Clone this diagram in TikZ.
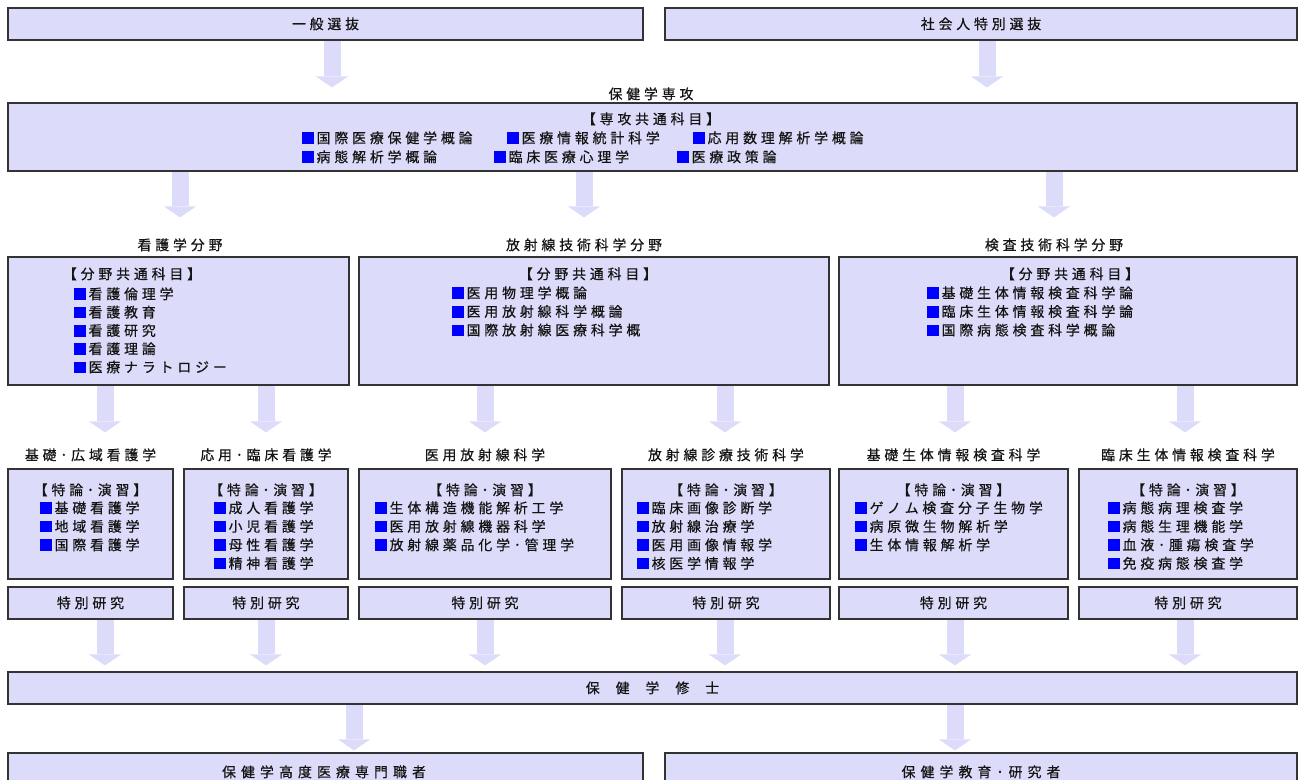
\documentclass[tikz,border=0pt]{standalone}
\usepackage{fontspec}
\setmainfont{Noto Sans CJK JP}
\newfontfamily\jp[LetterSpace=28,FakeBold=0.6]{Noto Sans CJK JP}
\newfontfamily\jpw[LetterSpace=37,FakeBold=0.6]{Noto Sans CJK JP}
\usetikzlibrary{arrows.meta,fit,calc}
\pgfdeclarelayer{bg}
\pgfsetlayers{bg,main}
\definecolor{boxfill}{RGB}{220,220,250}
\definecolor{arrfill}{RGB}{220,220,250}
\definecolor{sqblue}{RGB}{0,0,255}
\definecolor{ink}{RGB}{20,20,20}
\newcommand{\sqb}{\textcolor{sqblue}{\rule[-0.6pt]{8.6pt}{8.6pt}}\hspace{2.2pt}}
\begin{document}
\begin{tikzpicture}[x=0.75pt,y=-0.75pt,
  bx/.style={draw=black!80, line width=0.8pt, fill=boxfill, inner sep=0pt},
  txt/.style={font=\jp\fontsize{10.4pt}{12pt}\selectfont, text=ink, inner sep=0pt, text height=9pt, text depth=1.3pt},
  txn/.style={font=\jpw\fontsize{10.4pt}{12pt}\selectfont, text=ink, inner sep=0pt, text height=9pt, text depth=1.3pt},
  barrow/.style={draw=arrfill, line width=12.75pt, -{Triangle[width=24pt,length=8.25pt,line width=0pt]}},
]
\useasboundingbox (0,0) rectangle (1303,780);
\clip (0,0) rectangle (1303,780);

% ---- top selection boxes
\node[bx, fit={(8,8) (643,40)}] (sel1) {};
\node[txt] (sel1t) at (sel1.center) {一般選抜};
\node[bx, fit={(665,8) (1297,40)}] (sel2) {};
\node[txt] (sel2t) at (sel2.center) {社会人特別選抜};

% ---- major
\node[txt] (majlab) at (651,94) {保健学専攻};
\node[bx, fit={(8,103) (1297,171)}] (major) {};
\node[txt] (majhead) at (651,119) {【専攻共通科目】};
\node[txt, anchor=west] (m1) at (302,138) {\sqb 国際医療保健学概論};
\node[txt, anchor=west] (m2) at (507,138) {\sqb 医療情報統計科学};
\node[txt, anchor=west] (m3) at (693,138) {\sqb 応用数理解析学概論};
\node[txt, anchor=west] (m4) at (302,157) {\sqb 病態解析学概論};
\node[txt, anchor=west] (m5) at (494,157) {\sqb 臨床医療心理学};
\node[txt, anchor=west] (m6) at (677,157) {\sqb 医療政策論};

% ---- fields
\node[txt] (falab) at (180,245) {看護学分野};
\node[txt] (fblab) at (584,245) {放射線技術科学分野};
\node[txt] (fclab) at (1054,245) {検査技術科学分野};
\node[bx, fit={(8,257) (349,385)}] (fa) {};
\node[bx, fit={(359,257) (829,385)}] (fb) {};
\node[bx, fit={(839,257) (1297,385)}] (fc) {};
\node[txt] (fahead) at (132,274) {【分野共通科目】};
\node[txt] (fbhead) at (588,274) {【分野共通科目】};
\node[txt] (fchead) at (1070,274) {【分野共通科目】};
\foreach \s [count=\i from 0] in {看護倫理学,看護教育,看護研究,看護理論,医療ナラトロジー}
  \node[txt, anchor=west] (fa\i) at (74,{294+18.3*\i}) {\sqb\s};
\foreach \s [count=\i from 0] in {医用物理学概論,医用放射線科学概論,国際放射線医療科学概}
  \node[txt, anchor=west] (fb\i) at (452,{293+18.6*\i}) {\sqb\s};
\foreach \s [count=\i from 0] in {基礎生体情報検査科学論,臨床生体情報検査科学論,国際病態検査科学概論}
  \node[txt, anchor=west] (fc\i) at (927,{293+18.6*\i}) {\sqb\s};

% ---- sub-fields
\foreach \n/\xa/\xb/\lab in {s1/8/173/基礎･広域看護学, s2/184/348/応用･臨床看護学, s3/359/611/医用放射線科学, s4/622/830/放射線診療技術科学, s5/839/1068/基礎生体情報検査科学, s6/1079/1297/臨床生体情報検査科学}{
  \node[bx, fit={(\xa,469) (\xb,579)}] (\n) {};
  \node[txt] (\n lab) at ($(\xa,455)!0.5!(\xb,455)$) {\lab};
  \node[txt] (\n head) at ($(\xa,490)!0.5!(\xb,490)$) {【特論･演習】};
  \node[bx, fit={(\xa,587) (\xb,619)}] (\n r) {};
  \node[txt] (\n rt) at (\n r.center) {特別研究};
}
\foreach \s [count=\i from 0] in {基礎看護学,地域看護学,国際看護学}
  \node[txt, anchor=west] (s1i\i) at (40,{508+18.5*\i}) {\sqb\s};
\foreach \s [count=\i from 0] in {成人看護学,小児看護学,母性看護学,精神看護学}
  \node[txt, anchor=west] (s2i\i) at (214,{508+18.5*\i}) {\sqb\s};
\foreach \s [count=\i from 0] in {生体構造機能解析工学,医用放射線機器科学,放射線薬品化学･管理学}
  \node[txt, anchor=west] (s3i\i) at (375,{508+18.5*\i}) {\sqb\s};
\foreach \s [count=\i from 0] in {臨床画像診断学,放射線治療学,医用画像情報学,核医学情報学}
  \node[txt, anchor=west] (s4i\i) at (637,{508+18.5*\i}) {\sqb\s};
\foreach \s [count=\i from 0] in {ゲノム検査分子生物学,病原微生物解析学,生体情報解析学}
  \node[txt, anchor=west] (s5i\i) at (855,{508+18.5*\i}) {\sqb\s};
\foreach \s [count=\i from 0] in {病態病理検査学,病態生理機能学,血液･腫瘍検査学,免疫病態検査学}
  \node[txt, anchor=west] (s6i\i) at (1108,{508+18.5*\i}) {\sqb\s};

% ---- degree and careers
\node[bx, fit={(8,672) (1297,704)}] (deg) {};
\node[txt] (degt) at (deg.center) {保\hspace{12pt}健\hspace{12pt}学\hspace{12pt}修\hspace{12pt}士};
\node[bx, fit={(8,753) (643,792)}] (car1) {};
\node[txn] (car1t) at (324,772) {保健学高度医療専門職者};
\node[bx, fit={(665,753) (1297,792)}] (car2) {};
\node[txn] (car2t) at (981,772) {保健学教育･研究者};

% ---- arrow x positions
\foreach \xx in {105,180,266,332,354,485,584,725,955,987,1054,1185}
  \coordinate (ax\xx) at (\xx,0);

\begin{pgfonlayer}{bg}
\draw[barrow, shorten >=11.25pt] (sel1.south -| ax332) -- (major.north -| ax332);
\draw[barrow, shorten >=11.25pt] (sel2.south -| ax987) -- (major.north -| ax987);
\draw[barrow, shorten >=29.25pt] (major.south -| ax180) -- (fa.north -| ax180);
\draw[barrow, shorten >=29.25pt] (major.south -| ax584) -- (fb.north -| ax584);
\draw[barrow, shorten >=29.25pt] (major.south -| ax1054) -- (fc.north -| ax1054);
\draw[barrow, shorten >=27pt] (fa.south -| ax105) -- (s1.north -| ax105);
\draw[barrow, shorten >=27pt] (fa.south -| ax266) -- (s2.north -| ax266);
\draw[barrow, shorten >=27pt] (fb.south -| ax485) -- (s3.north -| ax485);
\draw[barrow, shorten >=27pt] (fb.south -| ax725) -- (s4.north -| ax725);
\draw[barrow, shorten >=27pt] (fc.south -| ax955) -- (s5.north -| ax955);
\draw[barrow, shorten >=27pt] (fc.south -| ax1185) -- (s6.north -| ax1185);
\draw[barrow, shorten >=4.5pt] (s1r.south -| ax105) -- (deg.north -| ax105);
\draw[barrow, shorten >=4.5pt] (s2r.south -| ax266) -- (deg.north -| ax266);
\draw[barrow, shorten >=4.5pt] (s3r.south -| ax485) -- (deg.north -| ax485);
\draw[barrow, shorten >=4.5pt] (s4r.south -| ax725) -- (deg.north -| ax725);
\draw[barrow, shorten >=4.5pt] (s5r.south -| ax955) -- (deg.north -| ax955);
\draw[barrow, shorten >=4.5pt] (s6r.south -| ax1185) -- (deg.north -| ax1185);
\draw[barrow, shorten >=1.5pt] (deg.south -| ax354) -- (car1.north -| ax354);
\draw[barrow, shorten >=1.5pt] (deg.south -| ax955) -- (car2.north -| ax955);
\end{pgfonlayer}
\end{tikzpicture}
\end{document}
